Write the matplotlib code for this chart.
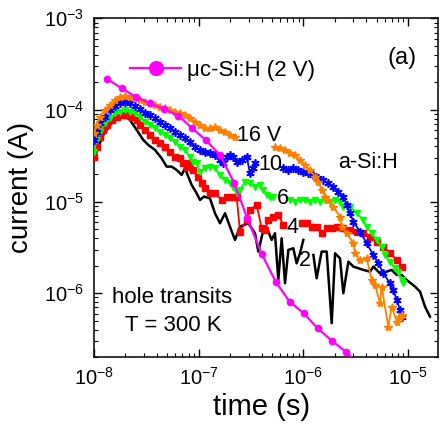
import numpy as np
import matplotlib
matplotlib.use("Agg")
import matplotlib.pyplot as plt
from matplotlib.ticker import FuncFormatter, LogLocator, NullFormatter

plt.rcParams['font.family'] = ['Liberation Sans', 'DejaVu Sans']
plt.rcParams['mathtext.fontset'] = 'custom'
plt.rcParams['mathtext.rm'] = 'Liberation Sans'
plt.rcParams['mathtext.it'] = 'Liberation Sans:italic'
plt.rcParams['mathtext.default'] = 'regular'

nan = np.nan

# ---- data (log10 of time [s] and current [A]) ----
# a-Si:H, 16 V
log_t_16 = [-8.000, -7.975, -7.943, -7.895, -7.847, -7.799, -7.752, -7.704, -7.656, -7.608,
            -7.561, -7.513, -7.465, -7.417, -7.369, -7.322, -7.274, -7.226, -7.178, -7.131,
            -7.083, -7.035, -6.987, -6.939, -6.892, -6.844, -6.796, -6.748, -6.701, -6.653,
            nan,
            -6.271, -6.223, -6.175, -6.127, -6.080, -6.032, -5.984, -5.936, -5.889, -5.857,
            -5.825, -5.793, -5.761, -5.713, -5.650, -5.634, -5.586, -5.522, -5.506, -5.459,
            -5.395, -5.347, -5.315, -5.268, -5.252, -5.188, -5.156, -5.108, -5.076, -5.061]
log_I_16 = [-4.255, -4.164, -4.073, -4.000, -3.945, -3.891, -3.862, -3.847, -3.855, -3.873,
            -3.891, -3.909, -3.927, -3.945, -3.964, -3.982, -4.000, -4.018, -4.036, -4.055,
            -4.091, -4.127, -4.164, -4.200, -4.200, -4.182, -4.218, -4.236, -4.273, -4.291,
            nan,
            -4.400, -4.418, -4.436, -4.473, -4.491, -4.545, -4.600, -4.655, -4.727, -4.782,
            -4.873, -4.945, -4.982, -5.055, -5.164, -5.273, -5.345, -5.455, -5.564, -5.636,
            -5.618, -5.855, -5.909, -6.109, -5.927, -6.364, -6.145, -6.309, -6.255, -6.236]

# a-Si:H, 10 V
log_t_10 = [-8.000, -7.975, -7.943, -7.895, -7.847, -7.799, -7.752, -7.704, -7.656, -7.608,
            -7.561, -7.513, -7.465, -7.417, -7.369, -7.322, -7.274, -7.226, -7.178, -7.131,
            -7.083, -7.035, -6.987, -6.939, -6.892, -6.844, -6.796, -6.764, -6.732, -6.701,
            -6.669, -6.637, -6.589, -6.541, -6.510, -6.478, -6.462,
            nan,
            -6.191, -6.143, -6.096, -6.048, -6.000, -5.952, -5.904, -5.857, -5.809, -5.761,
            -5.713, -5.666, -5.618, -5.586, -5.554, -5.522, -5.459, -5.395, -5.331, -5.283,
            -5.236, -5.172, -5.140, -5.108, -5.076, -5.061]
log_I_10 = [-4.327, -4.236, -4.145, -4.073, -4.000, -3.956, -3.927, -3.909, -3.927, -3.956,
            -3.993, -4.029, -4.055, -4.091, -4.127, -4.164, -4.200, -4.236, -4.273, -4.309,
            -4.345, -4.400, -4.436, -4.455, -4.473, -4.491, -4.545, -4.582, -4.509, -4.491,
            -4.509, -4.564, -4.545, -4.509, -4.691, -4.636, -4.582,
            nan,
            -4.636, -4.655, -4.636, -4.655, -4.673, -4.691, -4.709, -4.745, -4.764, -4.800,
            -4.836, -4.891, -4.945, -5.036, -5.127, -5.218, -5.327, -5.455, -5.582, -5.673,
            -5.782, -5.891, -5.964, -6.073, -6.182, -6.255]

# a-Si:H, 6 V
log_t_6 = [-8.000, -7.975, -7.943, -7.895, -7.847, -7.799, -7.752, -7.704, -7.656, -7.608,
           -7.561, -7.513, -7.465, -7.417, -7.369, -7.322, -7.274, -7.226, -7.178, -7.131,
           -7.083, -7.051, -7.019, -6.987, -6.939, -6.892, -6.844, -6.796, -6.748, -6.701,
           -6.669, -6.637, -6.605, -6.557, -6.510, -6.462, -6.414, -6.382, -6.350, -6.318,
           -6.287,
           nan,
           -6.127, -6.080, -6.032, -5.984, -5.936, -5.889, -5.841, -5.793, -5.745, -5.697,
           -5.650, -5.618, -5.554, -5.490, -5.427, -5.395, -5.347, -5.299, -5.252, -5.220,
           -5.172, -5.124, -5.092, -5.061, -5.045]
log_I_6 = [-4.455, -4.327, -4.236, -4.145, -4.091, -4.036, -4.018, -4.000, -4.018, -4.036,
           -4.073, -4.127, -4.164, -4.200, -4.236, -4.273, -4.309, -4.345, -4.400, -4.436,
           -4.509, -4.564, -4.582, -4.673, -4.636, -4.618, -4.636, -4.709, -4.764, -4.800,
           -4.836, -4.909, -4.873, -4.782, -4.800, -4.836, -4.818, -4.873, -4.927, -4.945,
           -4.945,
           nan,
           -4.982, -5.000, -4.982, -4.982, -5.000, -4.982, -5.000, -4.982, -5.000, -4.982,
           -5.000, -5.055, -5.055, -5.127, -5.200, -5.273, -5.345, -5.418, -5.491, -5.582,
           -5.655, -5.727, -5.764, -5.855, -5.891]

# a-Si:H, 4 V
log_t_4 = [-8.000, -7.975, -7.943, -7.911, -7.879, -7.831, -7.783, -7.736, -7.688, -7.640,
           -7.592, -7.561, -7.513, -7.465, -7.417, -7.369, -7.322, -7.274, -7.226, -7.178,
           -7.146, -7.115, -7.083, -7.051, -7.003, -6.971, -6.939, -6.892, -6.844, -6.780,
           -6.732, -6.685, -6.637, -6.605, -6.541, -6.510, -6.446, -6.398, -6.366, -6.334,
           -6.287, -6.239, -6.191,
           nan,
           -6.016, -5.968, -5.920, -5.873, -5.825, -5.777, -5.729, -5.682, -5.618, -5.554,
           -5.490, -5.427, -5.363, -5.299, -5.236, -5.172, -5.108, -5.061]
log_I_4 = [-4.509, -4.400, -4.291, -4.218, -4.164, -4.109, -4.073, -4.055, -4.055, -4.073,
           -4.109, -4.164, -4.218, -4.273, -4.327, -4.364, -4.400, -4.455, -4.509, -4.527,
           -4.582, -4.618, -4.582, -4.655, -4.727, -4.800, -4.855, -4.909, -4.909, -4.982,
           -4.945, -4.945, -4.945, -5.327, -5.200, -5.091, -5.036, -5.291, -5.309, -5.200,
           -5.164, -5.145, -5.255,
           nan,
           -5.236, -5.236, -5.273, -5.273, -5.345, -5.291, -5.291, -5.273, -5.291, -5.309,
           -5.327, -5.345, -5.382, -5.436, -5.491, -5.564, -5.636, -5.709]

# a-Si:H, 2 V
log_t_2 = [-8.000, -7.959, -7.911, -7.847, -7.783, -7.720, -7.656, -7.592, -7.529, -7.481,
           -7.417, -7.354, -7.306, -7.258, -7.210, -7.162, -7.131, -7.099, -7.067, -7.019,
           -6.987, -6.949, -6.892, -6.844, -6.796, -6.748, -6.701, -6.653, -6.605, -6.525,
           -6.462, -6.430, -6.382, -6.334, -6.303, -6.271, -6.239, -6.207, -6.175, -6.143,
           -6.096, -6.064, -6.032, -6.000,
           nan,
           -5.904, -5.873, -5.825, -5.777, -5.729, -5.697, -5.650, -5.618, -5.570, -5.522,
           -5.427, -5.363, -5.331, -5.268, -5.204, -5.156, -5.108, -5.061, -5.013, -4.933,
           -4.885, -4.838, -4.790]
log_I_2 = [-4.545, -4.400, -4.273, -4.164, -4.091, -4.055, -4.109, -4.218, -4.327, -4.382,
           -4.436, -4.527, -4.618, -4.618, -4.655, -4.709, -4.636, -4.727, -4.818, -4.909,
           -4.982, -4.945, -4.964, -5.127, -5.236, -5.127, -5.273, -5.418, -5.273, -5.236,
           -5.345, -5.545, -5.309, -5.327, -5.418, -5.345, -5.855, -5.400, -5.891, -5.527,
           -5.509, -5.673, -5.564, -5.418,
           nan,
           -5.582, -5.836, -5.545, -5.545, -6.327, -5.564, -5.618, -6.000, -5.655, -5.709,
           -5.745, -5.764, -5.709, -5.782, -5.764, -5.745, -5.800, -5.800, -5.855, -5.927,
           -5.982, -6.145, -6.255]

# uc-Si:H, 2 V
log_t_uc = [-7.873, -7.736, -7.602, -7.465, -7.331, -7.194, -7.061, -6.933, -6.796, -6.662,
            -6.535, -6.398, -6.264, -6.131, -5.997, -5.863, -5.729, -5.596, -5.538]
log_I_uc = [-3.662, -3.764, -3.855, -3.927, -3.989, -4.062, -4.200, -4.327, -4.491, -4.793,
            -5.182, -5.571, -5.873, -6.091, -6.218, -6.382, -6.516, -6.636, -6.698]

curve_labels = ["16 V", "10", "6", "4", "2"]
label_pos_log = [(-6.63, -4.28), (-6.43, -4.60), (-6.255, -4.971), (-6.159, -5.284), (-6.041, -5.64)]

fig = plt.figure(figsize=(4.4, 4.25), dpi=100)
ax = fig.add_axes([0.2136, 0.1592, 0.7811, 0.7977])

def P(a):
    return 10 ** np.array(a, dtype=float)

ax.plot(P(log_t_2), P(log_I_2), color='black', lw=1.8, zorder=2)
ax.plot(P(log_t_4), P(log_I_4), color='#ff0000', lw=1.3, marker='s', ms=4.2, mec='#ff0000', zorder=3)
ax.plot(P(log_t_6), P(log_I_6), color='#00ff00', lw=1.3, marker='v', ms=5, mec='#00ff00', zorder=4)
ax.plot(P(log_t_10), P(log_I_10), color='#0000ff', lw=1.3, marker=(6, 2, 0), ms=6, mew=1.2, mec='#0000ff', zorder=5)
ax.plot(P(log_t_16), P(log_I_16), color='#ff8000', lw=1.3, marker='*', ms=6, mec='#ff8000', zorder=6)
ax.plot(P(log_t_uc), P(log_I_uc), color='#ff00ff', lw=1.6, marker='o', ms=4.5, mec='#ff00ff',
        markevery=list(range(len(log_t_uc) - 1)), zorder=7, label='\u03bcc-Si:H (2 V)')

for lab, (lx, ly) in zip(curve_labels, label_pos_log):
    ax.text(10 ** lx, 10 ** ly, lab, fontsize=15.5, ha='left', va='center', zorder=10)
ax.text(10 ** -5.666, 10 ** -4.571, 'a-Si:H', fontsize=15.5, ha='left', va='center')
ax.text(0.896, 0.883, '(a)', transform=ax.transAxes, fontsize=17, ha='center', va='center')
ax.text(0.227, 0.176, 'hole transits', transform=ax.transAxes, fontsize=16, ha='center', va='center')
ax.text(0.23, 0.095, 'T = 300 K', transform=ax.transAxes, fontsize=16, ha='center', va='center')

ax.set_xscale('log')
ax.set_yscale('log')
ax.set_xlim(1e-8, 1.92e-5)
ax.set_ylim(2.0e-7, 1e-3)

fmt = FuncFormatter(lambda v, p: r'$10^{%d}$' % int(round(np.log10(v))))
ax.xaxis.set_major_formatter(fmt)
ax.yaxis.set_major_formatter(fmt)
ax.xaxis.set_major_locator(LogLocator(base=10, numticks=10))
ax.yaxis.set_major_locator(LogLocator(base=10, numticks=10))
ax.xaxis.set_minor_locator(LogLocator(base=10, subs=np.arange(2, 10), numticks=20))
ax.yaxis.set_minor_locator(LogLocator(base=10, subs=np.arange(2, 10), numticks=20))
ax.xaxis.set_minor_formatter(NullFormatter())
ax.yaxis.set_minor_formatter(NullFormatter())

ax.tick_params(which='both', direction='in', top=True, right=True, labelsize=14.5)
ax.tick_params(which='major', length=6, width=1.0, pad=7)
ax.tick_params(which='minor', length=3, width=0.8)
for s in ax.spines.values():
    s.set_linewidth(1.1)

ax.set_xlabel('time (s)', fontsize=21)
ax.set_ylabel('current (A)', fontsize=20)
ax.xaxis.set_label_coords(0.488, -0.105)
ax.yaxis.set_label_coords(-0.175, 0.5)

ax.legend(loc='center left', bbox_to_anchor=(0.105, 0.8475), frameon=False, fontsize=16,
          handlelength=2.3, handletextpad=0.25, markerscale=2.2, borderpad=0, borderaxespad=0)

fig.savefig('out.png', dpi=100)
